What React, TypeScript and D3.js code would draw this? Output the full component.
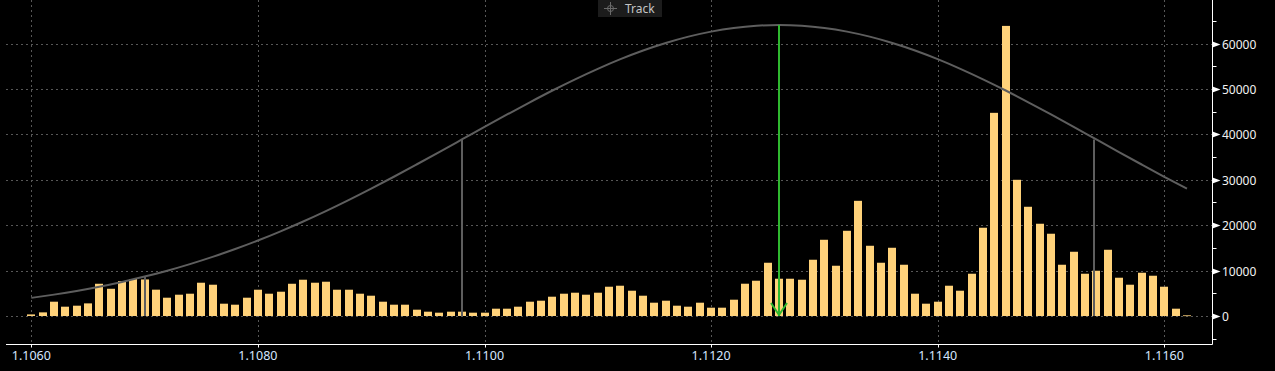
import React from "react";
import * as d3 from "d3";

// ---- Data ----
const startPrice = 1.106;
const step = 0.0001;
const volumes: number[] = [
  350, 800, 3150, 2050, 2270, 2780, 7100, 6000, 7700, 8150,
  8050, 5800, 4030, 4690, 4910, 7330, 6890, 2710, 2490, 4030,
  5790, 4910, 5350, 7100, 7990, 7330, 7550, 5790, 5790, 4910,
  4470, 3150, 2490, 2490, 1390, 950, 730, 950, 950, 730,
  730, 1610, 1610, 2050, 3150, 3370, 4250, 4910, 5130, 4690,
  5130, 6450, 6670, 5570, 4470, 2930, 3370, 2270, 2050, 2930,
  1830, 1830, 3590, 7110, 7770, 11730, 8210, 8210, 7990, 12390,
  16790, 11070, 18770, 25370, 15470, 11730, 15030, 11290, 4910, 2710,
  3150, 6670, 5570, 9310, 19440, 44750, 63900, 30000, 24060, 20320,
  18120, 11290, 14150, 9310, 9970, 14590, 8430, 6890, 9530, 8870,
  6450, 1610, 150,
];
const prices: number[] = volumes.map((_, i) => +(startPrice + i * step).toFixed(4));

// curve (read every 0.0002)
const curveValues: number[] = [
  3990, 4710, 5520, 6450, 7510, 8680, 9980, 11430, 13020, 14750,
  16620, 18650, 20810, 23100, 25520, 28050, 30670, 33370, 36110, 38880,
  41660, 44390, 47070, 49670, 52130, 54440, 56570, 58480, 60140, 61540,
  62640, 63450, 63940, 64100, 63940, 63450, 62640, 61540, 60140, 58480,
  56570, 54440, 52130, 49670, 47070, 44390, 41660, 38880, 36110, 33370,
  30670, 28050,
];
const curvePrices: number[] = curveValues.map((_, i) => +(startPrice + i * 0.0002).toFixed(4));

const markerPrices: number[] = [1.107, 1.1098, 1.11538];
const markerTops: number[] = [8700, 38900, 38850];
const meanPrice = 1.1126;
const meanTop = 64100;

const xTicks: number[] = [1.106, 1.108, 1.11, 1.112, 1.114, 1.116];
const yMajor: number[] = [0, 10000, 20000, 30000, 40000, 50000, 60000];
const yMinor: number[] = [-5000, 5000, 15000, 25000, 35000, 45000, 55000, 65000];

export default function App() {
  const W = 1275;
  const H = 371;
  const left = 6;
  const right = 1212.5;
  const bottom = 344.5;
  const x = d3.scaleLinear().domain([1.106, 1.116]).range([31.3, 1164.3]);
  const y = d3.scaleLinear().domain([0, 60000]).range([316, 43.6]);
  const line = d3
    .line<number>()
    .x((_, i) => x(curvePrices[i]))
    .y((d) => y(d))
    .curve(d3.curveMonotoneX);
  const grid = "#575757";
  const font = "'Noto Sans', sans-serif";
  const gx = Math.round(x(meanPrice)) + 0.0;
  return (
    <svg
      width={W}
      height={H}
      style={{ position: "absolute", left: 0, top: 0, background: "#000", display: "block" }}
    >
      <rect x={0} y={0} width={W} height={H} fill="#000" />
      {/* grid */}
      {yMajor.map((v) => (
        <line
          key={"hg" + v}
          x1={left}
          x2={right}
          y1={Math.round(y(v)) + 0.5}
          y2={Math.round(y(v)) + 0.5}
          stroke={grid}
          strokeDasharray="2,3"
        />
      ))}
      {xTicks.map((t) => (
        <line
          key={"vg" + t}
          x1={Math.round(x(t)) + 0.5}
          x2={Math.round(x(t)) + 0.5}
          y1={0}
          y2={bottom}
          stroke={grid}
          strokeDasharray="2,3"
        />
      ))}
      {/* bars */}
      {volumes.map((v, i) => (
        <rect
          key={"b" + i}
          x={Math.round(x(prices[i]) - 4)}
          y={y(v)}
          width={8}
          height={Math.max(0.8, y(0) - y(v))}
          fill="#ffd27a"
        />
      ))}
      {/* curve */}
      <path d={line(curveValues) || ""} fill="none" stroke="#5e5e5e" strokeWidth={2} />
      {/* marker lines */}
      {markerPrices.map((p, i) => (
        <line
          key={"m" + i}
          x1={Math.round(x(p))}
          x2={Math.round(x(p))}
          y1={y(markerTops[i])}
          y2={y(0)}
          stroke="#5e5e5e"
          strokeWidth={2}
        />
      ))}
      {/* mean arrow */}
      <line x1={gx} x2={gx} y1={y(meanTop)} y2={y(0)} stroke="#2fb82f" strokeWidth={2} />
      <polyline
        points={`${gx - 8},${y(0) - 13} ${gx},${y(0) - 1} ${gx + 8},${y(0) - 13}`}
        fill="none"
        stroke="#2fb82f"
        strokeWidth={2}
      />
      {/* axes */}
      <line x1={left} x2={right} y1={bottom} y2={bottom} stroke="#fff" strokeWidth={1} />
      <line x1={right} x2={right} y1={0} y2={bottom} stroke="#fff" strokeWidth={1} />
      {xTicks.map((t) => (
        <g key={"xt" + t}>
          <line
            x1={Math.round(x(t)) + 0.5}
            x2={Math.round(x(t)) + 0.5}
            y1={bottom}
            y2={bottom + 3}
            stroke="#fff"
          />
          <text
            x={x(t)}
            y={360}
            textAnchor="middle"
            fill="#d6e6ff"
            fontFamily={font}
            fontSize={12.5}
          >
            {t.toFixed(4)}
          </text>
        </g>
      ))}
      {yMajor.map((v) => {
        const yy = Math.round(y(v)) + 0.5;
        return (
          <g key={"yt" + v}>
            <polygon points={`${right},${yy - 3} ${right + 8},${yy} ${right},${yy + 3}`} fill="#fff" />
            <text x={1222} y={yy + 4.3} fill="#f2f2f2" fontFamily={font} fontSize={12}>
              {v}
            </text>
          </g>
        );
      })}
      {yMinor.map((v) => {
        const yy = Math.round(y(v)) + 0.5;
        return <line key={"ym" + v} x1={right} x2={right + 4} y1={yy} y2={yy} stroke="#fff" />;
      })}
      {/* Track legend */}
      <rect x={598} y={0} width={64} height={17} fill="#1c1c1c" />
      <g stroke="#6a6a6a" strokeWidth={1} fill="none">
        <circle cx={610.5} cy={8.5} r={3} />
        <line x1={604} x2={617} y1={8.5} y2={8.5} />
        <line x1={610.5} x2={610.5} y1={2} y2={15} />
      </g>
      <text x={625} y={13} fill="#c4c4c4" fontFamily={font} fontSize={12}>
        Track
      </text>
    </svg>
  );
}
